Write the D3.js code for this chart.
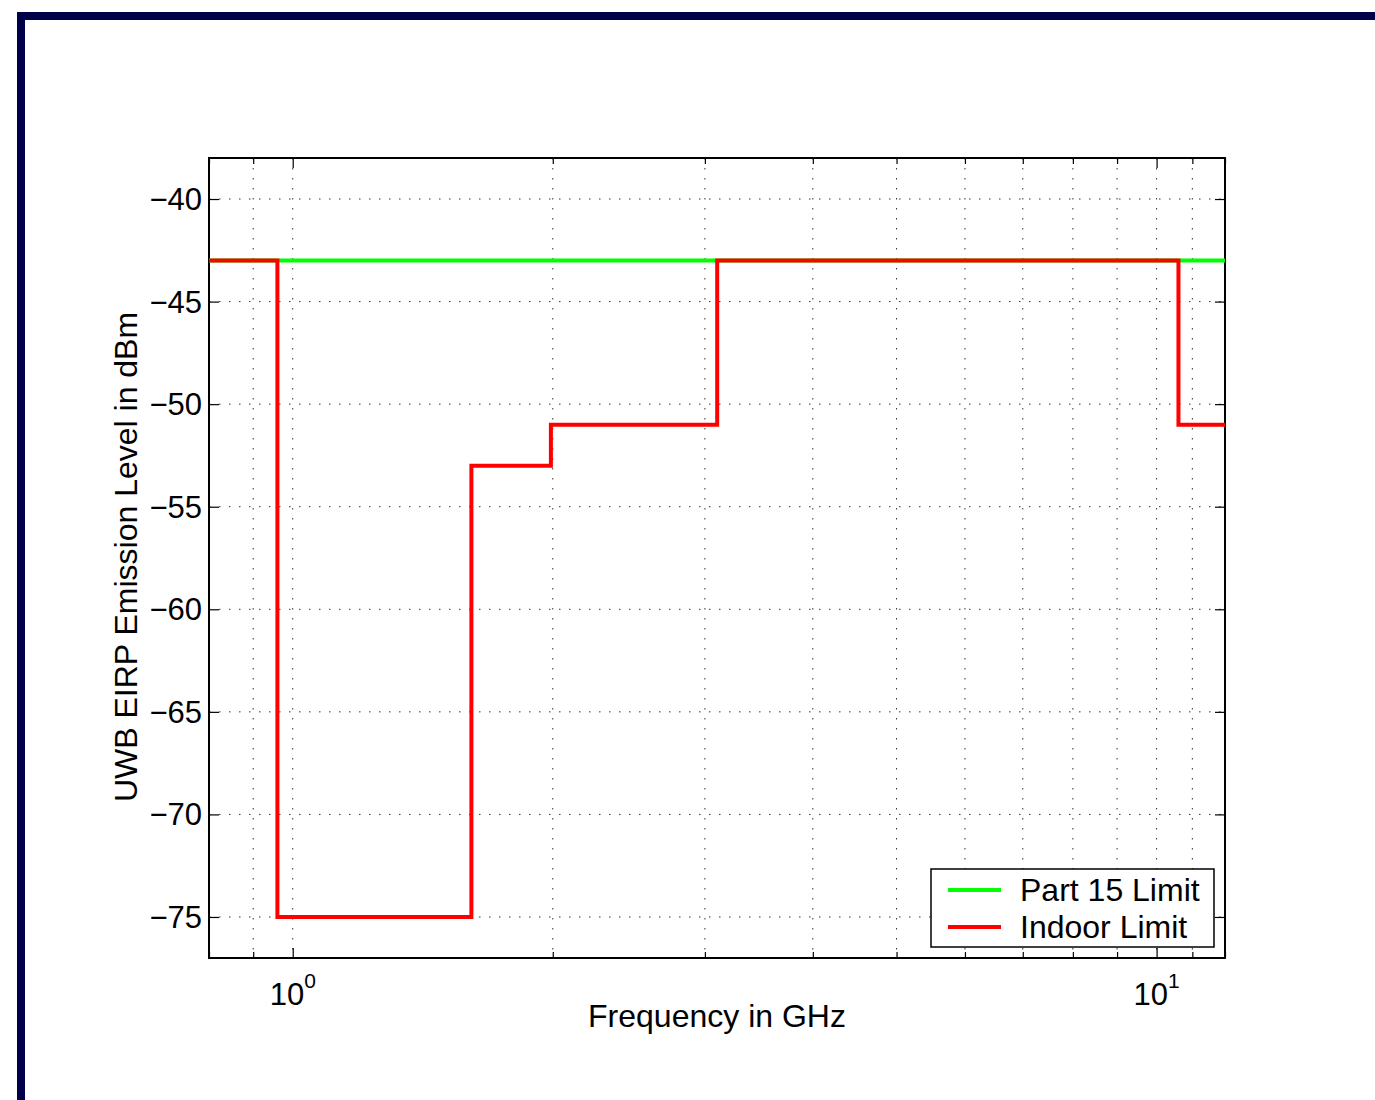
<!DOCTYPE html>
<html>
<head>
<meta charset="utf-8">
<script src="https://cdn.jsdelivr.net/npm/d3@7"></script>
<style>
  body { margin: 0; background: #fff; }
  svg { display: block; font-family: "Liberation Sans", Arial, sans-serif; }
</style>
</head>
<body>
<div class="chart"></div>
<script>
// FCC UWB limits, frequency in GHz, level in dBm (step edges)
const part15Freq = [0.8, 12];
const part15Level = [-43, -43];

const indoorFreq = [0.8, 0.96, 1.61, 1.99, 3.1, 10.6, 12];
const indoorLevel = [-43, -75, -53, -51, -43, -51, -51];

const yTicks = [-40, -45, -50, -55, -60, -65, -70, -75];
const xMajor = [1, 10];
const xMinor = [0.8, 0.9, 2, 3, 4, 5, 6, 7, 8, 9, 11, 12];

const w = 1375;
const h = 1100;
const pLeft = 209, pRight = 1225, pTop = 158, pBottom = 958;

const svg = d3.select('.chart')
  .append('svg')
  .attr('width', w)
  .attr('height', h);

// outer frame
svg.append('rect').attr('x', 17).attr('y', 12).attr('width', w).attr('height', 8).attr('fill', '#00004a');
svg.append('rect').attr('x', 17).attr('y', 12).attr('width', 8).attr('height', h).attr('fill', '#00004a');

const x = d3.scaleLog().domain([0.8, 12]).range([pLeft, pRight]);
const y = d3.scaleLinear().domain([-77, -38]).range([pBottom, pTop]);

// grid
const grid = svg.append('g').attr('stroke', '#333').attr('stroke-width', 1).attr('stroke-dasharray', '1.5,8.5');
xMajor.concat(xMinor).filter(d => d > 0.8 && d < 12).forEach(d => {
  grid.append('line').attr('x1', x(d)).attr('x2', x(d)).attr('y1', pTop).attr('y2', pBottom);
});
yTicks.forEach(d => {
  grid.append('line').attr('x1', pLeft).attr('x2', pRight).attr('y1', y(d)).attr('y2', y(d));
});

// axes (ticks inward on all four sides)
const fs = 32;
svg.append('g')
  .attr('transform', `translate(${pLeft},0)`)
  .call(d3.axisRight(y).tickValues(yTicks).tickSize(10).tickFormat(''))
  .call(g => g.select('.domain').remove());
svg.append('g')
  .attr('transform', `translate(${pRight},0)`)
  .call(d3.axisLeft(y).tickValues(yTicks).tickSize(10).tickFormat(''))
  .call(g => g.select('.domain').remove());
svg.append('g')
  .attr('transform', `translate(0,${pBottom})`)
  .call(d3.axisTop(x).tickValues(xMajor).tickSize(10).tickFormat(''))
  .call(g => g.select('.domain').remove());
svg.append('g')
  .attr('transform', `translate(0,${pBottom})`)
  .call(d3.axisTop(x).tickValues(xMinor).tickSize(6).tickFormat(''))
  .call(g => g.select('.domain').remove());
svg.append('g')
  .attr('transform', `translate(0,${pTop})`)
  .call(d3.axisBottom(x).tickValues(xMajor).tickSize(10).tickFormat(''))
  .call(g => g.select('.domain').remove());
svg.append('g')
  .attr('transform', `translate(0,${pTop})`)
  .call(d3.axisBottom(x).tickValues(xMinor).tickSize(6).tickFormat(''))
  .call(g => g.select('.domain').remove());
svg.selectAll('.tick line').attr('stroke', '#000').attr('stroke-width', 1.2);

// y tick labels
svg.append('g').selectAll('text')
  .data(yTicks).enter().append('text')
  .attr('x', pLeft - 7)
  .attr('y', d => y(d) + 11)
  .attr('text-anchor', 'end')
  .attr('font-size', 31)
  .text(d => '\u2212' + Math.abs(d));

// x tick labels 10^n
const xl = svg.append('g').selectAll('text')
  .data(xMajor).enter().append('text')
  .attr('x', d => x(d) - 23)
  .attr('y', 1005)
  .attr('font-size', 31);
xl.append('tspan').text('10');
xl.append('tspan').attr('dy', -17).attr('font-size', 21).text(d => Math.round(Math.log10(d)));

// plot box
svg.append('rect')
  .attr('x', pLeft).attr('y', pTop)
  .attr('width', pRight - pLeft).attr('height', pBottom - pTop)
  .attr('fill', 'none').attr('stroke', '#000').attr('stroke-width', 2);

// lines
const line = d3.line().x(d => x(d[0])).y(d => y(d[1])).curve(d3.curveStepAfter);
svg.append('path')
  .datum(part15Freq.map((f, i) => [f, part15Level[i]]))
  .attr('d', line)
  .attr('fill', 'none').attr('stroke', '#00ff00').attr('stroke-width', 4);
svg.append('path')
  .datum(indoorFreq.map((f, i) => [f, indoorLevel[i]]))
  .attr('d', line)
  .attr('fill', 'none').attr('stroke', '#ff0000').attr('stroke-width', 4);

// axis labels
svg.append('text')
  .attr('x', (pLeft + pRight) / 2)
  .attr('y', 1027)
  .attr('text-anchor', 'middle')
  .attr('font-size', fs)
  .text('Frequency in GHz');
svg.append('text')
  .attr('transform', 'translate(137,557) rotate(-90)')
  .attr('text-anchor', 'middle')
  .attr('font-size', fs)
  .text('UWB EIRP Emission Level in dBm');

// legend
const lg = svg.append('g');
lg.append('rect')
  .attr('x', 931).attr('y', 869).attr('width', 283).attr('height', 78)
  .attr('fill', '#fff').attr('stroke', '#000').attr('stroke-width', 1.5);
const legendItems = [['Part 15 Limit', '#00ff00'], ['Indoor Limit', '#ff0000']];
legendItems.forEach((d, i) => {
  const yy = 890 + i * 37;
  lg.append('line').attr('x1', 948).attr('x2', 1001).attr('y1', yy).attr('y2', yy)
    .attr('stroke', d[1]).attr('stroke-width', 4);
  lg.append('text').attr('x', 1020).attr('y', yy + 11).attr('font-size', fs).text(d[0]);
});
</script>
</body>
</html>
